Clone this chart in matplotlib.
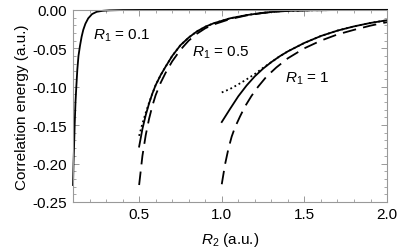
import matplotlib
matplotlib.use('Agg')
from matplotlib import pyplot as plt
from matplotlib.ticker import MultipleLocator, FormatStrFormatter

plt.rcParams['font.family'] = ['Liberation Sans', 'DejaVu Sans']
plt.rcParams['mathtext.fontset'] = 'custom'
plt.rcParams['mathtext.rm'] = 'Liberation Sans'
plt.rcParams['mathtext.it'] = 'Liberation Sans:italic'

# R1 = 0.1
x_01 = [0.100, 0.103, 0.106, 0.110, 0.115, 0.120, 0.126, 0.133, 0.142, 0.152,
        0.162, 0.175, 0.192, 0.215, 0.243, 0.28, 0.32, 0.4, 0.5, 0.7, 1.0, 1.5, 2.0]
y_01 = [-0.228, -0.200, -0.180, -0.150, -0.120, -0.100, -0.078, -0.060, -0.047, -0.035,
        -0.026, -0.018, -0.011, -0.0055, -0.0025, -0.0012, -0.0006, -0.0002, -0.0001,
        0.0, 0.0, 0.0, 0.0]

# R1 = 0.5
x_05 = [0.5, 0.52, 0.54, 0.56, 0.58, 0.6, 0.63, 0.66, 0.7, 0.75, 0.8, 0.85, 0.9,
        0.95, 1.05, 1.15, 1.25, 1.35, 1.5, 1.7, 2.0]
y_05_solid = [-0.178, -0.155, -0.137, -0.122, -0.109, -0.098, -0.085, -0.074, -0.060,
              -0.046, -0.036, -0.028, -0.022, -0.0175, -0.011, -0.0068, -0.0038,
              -0.0018, -0.0006, -0.0002, 0.0]
y_05_dash = [-0.228, -0.190, -0.163, -0.142, -0.125, -0.111, -0.095, -0.082, -0.067,
             -0.052, -0.040, -0.031, -0.024, -0.019, -0.012, -0.0072, -0.0040,
             -0.0019, -0.0006, -0.0002, 0.0]
y_05_dot = [-0.164, -0.148, -0.134, -0.121, -0.109, -0.098, -0.085, -0.074, -0.060,
            -0.046, -0.036, -0.028, -0.022, -0.0175, -0.011, -0.0068, -0.0038,
            -0.0018, -0.0006, -0.0002, 0.0]

# R1 = 1
x_1 = [1.0, 1.05, 1.1, 1.15, 1.2, 1.25, 1.3, 1.35, 1.4, 1.5, 1.6, 1.7, 1.8, 1.9, 2.0]
y_1_solid = [-0.146, -0.129, -0.1125, -0.0985, -0.0865, -0.0765, -0.068, -0.0605,
             -0.054, -0.043, -0.034, -0.027, -0.0215, -0.017, -0.0135]
y_1_dot = [-0.1075, -0.103, -0.097, -0.0905, -0.0835, -0.0755, -0.068, -0.0605,
           -0.054, -0.043, -0.034, -0.027, -0.0215, -0.017, -0.0135]
x_1_dash = [1.0, 1.02, 1.04, 1.06, 1.08, 1.11, 1.14, 1.18, 1.22, 1.27, 1.33, 1.4,
            1.5, 1.6, 1.7, 1.8, 1.9, 2.0]
y_1_dash = [-0.227, -0.201, -0.181, -0.165, -0.153, -0.139, -0.126, -0.112, -0.100,
            -0.087, -0.075, -0.063, -0.050, -0.040, -0.032, -0.026, -0.0205, -0.016]

labels = [r'$R_1$ = 0.1', r'$R_1$ = 0.5', r'$R_1$ = 1']
label_pos = [(0.22, -0.033), (0.82, -0.054), (1.385, -0.089)]

fig = plt.figure(figsize=(3.99, 2.53), dpi=100)
ax = fig.add_axes([0.183, 0.198, 0.787, 0.759])

lw = 1.3
dash = (7.5, 4.0)
dot = (1.0, 1.6)
ax.plot(x_01, y_01, color='black', lw=lw, clip_on=False)
ax.plot(x_05, y_05_dot, color='black', lw=lw, dashes=dot)
ax.plot(x_05, y_05_dash, color='black', lw=lw, dashes=dash)
ax.plot(x_05, y_05_solid, color='black', lw=lw, clip_on=False)
ax.plot(x_1, y_1_dot, color='black', lw=lw, dashes=dot)
ax.plot(x_1_dash, y_1_dash, color='black', lw=lw, dashes=dash)
ax.plot(x_1, y_1_solid, color='black', lw=lw)

for text, (tx, ty) in zip(labels, label_pos):
    ax.text(tx, ty, text, fontsize=11, va='center', ha='left')

ax.set_xlim(0.1, 2.0)
ax.set_ylim(-0.25, 0.0)
ax.xaxis.set_major_locator(MultipleLocator(0.5))
ax.xaxis.set_minor_locator(MultipleLocator(0.1))
ax.yaxis.set_major_locator(MultipleLocator(0.05))
ax.yaxis.set_minor_locator(MultipleLocator(0.01))
ax.xaxis.set_major_formatter(FormatStrFormatter('%.1f'))
ax.yaxis.set_major_formatter(FormatStrFormatter('%.2f'))

for spine in ax.spines.values():
    spine.set_color('#999999')
    spine.set_linewidth(0.8)
ax.tick_params(which='both', direction='in', top=True, right=True,
               color='#999999', labelsize=11, pad=4)
ax.tick_params(which='major', length=4, width=0.7)
ax.tick_params(which='minor', length=2, width=0.6)

ax.set_xlabel(r'$R_2$ (a.u.)', fontsize=11, labelpad=6)
ax.set_ylabel('Correlation energy (a.u.)', fontsize=11, labelpad=3)

fig.savefig('out.png', dpi=100)
